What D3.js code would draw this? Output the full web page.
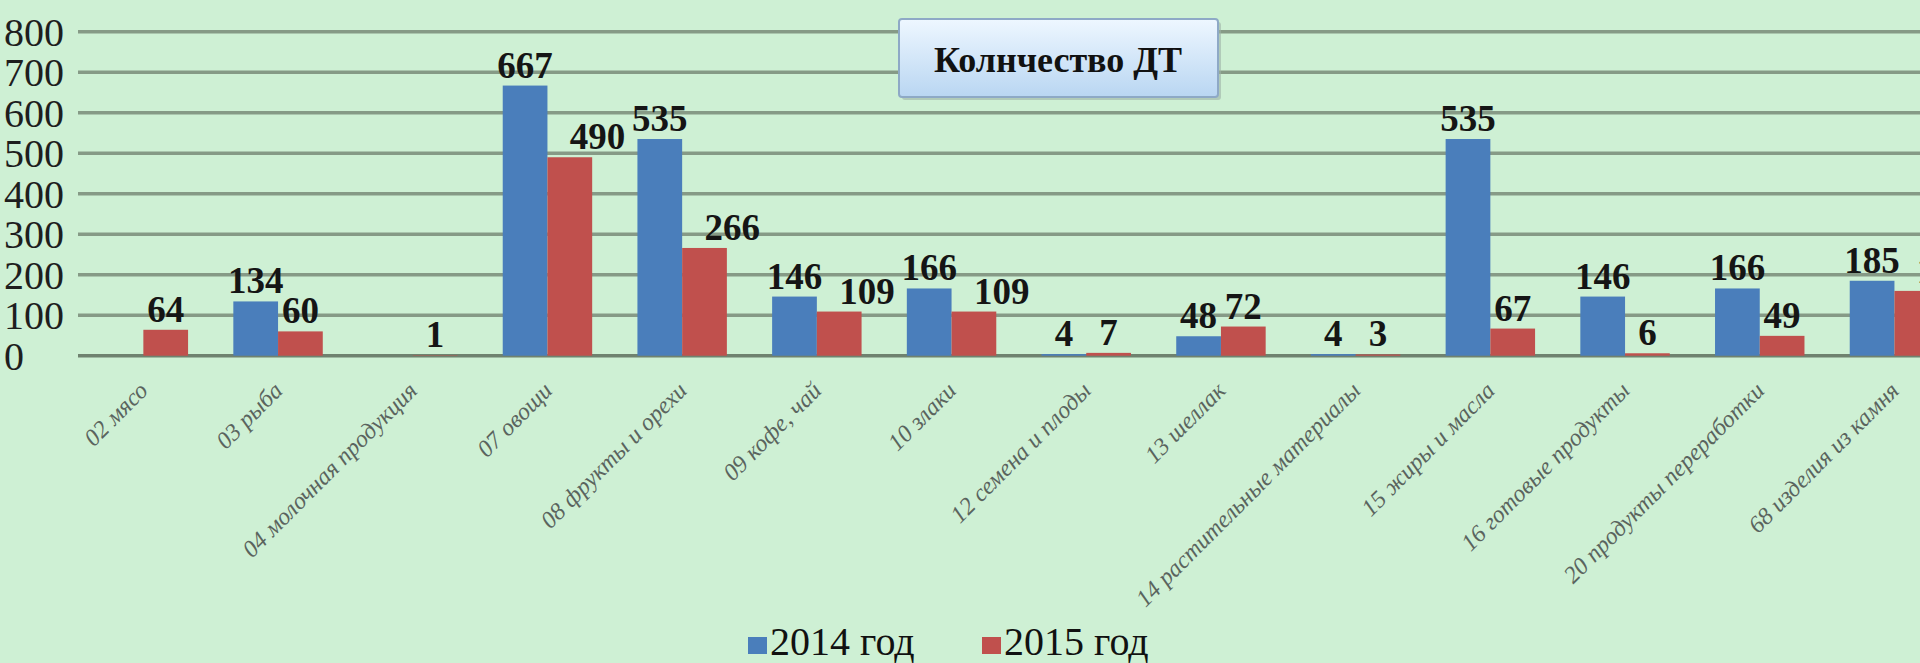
<!DOCTYPE html>
<html>
<head>
<meta charset="utf-8">
<script src="https://cdn.jsdelivr.net/npm/d3@7"></script>
<style>
  html, body { margin: 0; padding: 0; background: #cef0d4; overflow: hidden; }
  svg { display: block; font-family: "Liberation Serif", "DejaVu Serif", serif; }
</style>
</head>
<body>
<div id="chart"></div>
<script>
const width = 1920;
const height = 663;

const categories = ['02 мясо', '03 рыба', '04 молочная продукция', '07 овощи', '08 фрукты и орехи',
  '09 кофе, чай', '10 злаки', '12 семена и плоды', '13 шеллак', '14 растительные материалы',
  '15 жиры и масла', '16 готовые продукты', '20 продукты переработки', '68 изделия из камня'];
const series = ['2014 год', '2015 год'];
const values2014 = [null, 134, null, 667, 535, 146, 166, 4, 48, 4, 535, 146, 166, 185];
const values2015 = [64, 60, 1, 490, 266, 109, 109, 7, 72, 3, 67, 6, 49, 160];
const yTicks = [0, 100, 200, 300, 400, 500, 600, 700, 800];
const title = 'Колнчество ДТ';
const colors = ['#4a7ebb', '#c0504d'];

const svg = d3.select('#chart')
  .append('svg')
    .attr('width', width)
    .attr('height', height);

// plot area (the right side of the original chart is cut off)
const left = 76, step = 134.7;
const x = d3.scaleBand()
  .domain(categories)
  .range([left, left + step * categories.length])
  .paddingInner(0.336)
  .paddingOuter(0.168);
const x1 = d3.scaleBand().domain(series).range([0, x.bandwidth()]);
const y = d3.scaleLinear().domain([0, 800]).range([355.7, 31.7]);

// gridlines
svg.append('g')
  .selectAll('line')
  .data(yTicks)
  .join('line')
    .attr('x1', 78)
    .attr('x2', width)
    .attr('y1', d => y(d))
    .attr('y2', d => y(d))
    .style('stroke', d => d === 0 ? '#6f826f' : '#869a86')
    .style('stroke-width', 3.5);

// y tick labels, left aligned like the original
svg.append('g')
  .selectAll('text')
  .data(yTicks)
  .join('text')
    .attr('x', 4)
    .attr('y', d => y(d))
    .attr('dy', '0.35em')
    .style('font-size', '40px')
    .style('fill', '#1e1e1e')
    .text(d => d);

// title box
const box = svg.append('g');
const grad = svg.append('defs').append('linearGradient')
  .attr('id', 'boxgrad').attr('x1', 0).attr('y1', 0).attr('x2', 0).attr('y2', 1);
grad.append('stop').attr('offset', '0%').attr('stop-color', '#eef7ff');
grad.append('stop').attr('offset', '100%').attr('stop-color', '#b9d6f2');
box.append('rect')
  .attr('x', 902).attr('y', 22).attr('width', 319).attr('height', 78)
  .attr('rx', 3)
  .style('fill', '#9fb3a6').style('opacity', 0.6);
box.append('rect')
  .attr('x', 899).attr('y', 19).attr('width', 319).attr('height', 78)
  .attr('rx', 3)
  .style('fill', 'url(#boxgrad)')
  .style('stroke', '#8ea9c6')
  .style('stroke-width', 2);
box.append('text')
  .attr('x', 1058).attr('y', 72)
  .attr('text-anchor', 'middle')
  .style('font-size', '36px')
  .style('font-weight', 'bold')
  .style('fill', '#111')
  .text(title);

// bars
const rows = categories.map((c, i) => ({ cat: c, vals: [values2014[i], values2015[i]] }));
const groups = svg.append('g')
  .selectAll('g')
  .data(rows)
  .join('g')
    .attr('transform', d => `translate(${x(d.cat)},0)`);

groups.selectAll('rect')
  .data(d => d.vals.map((v, k) => ({ v, k })).filter(e => e.v !== null))
  .join('rect')
    .attr('x', e => x1(series[e.k]))
    .attr('width', x1.bandwidth())
    .attr('y', e => y(e.v))
    .attr('height', e => y(0) - y(e.v))
    .style('fill', e => colors[e.k]);

// value labels
groups.each(function(d) {
  const g = d3.select(this);
  d.vals.forEach((v, k) => {
    if (v === null) return;
    const cx = x1(series[k]) + x1.bandwidth() / 2;
    const t = g.append('text')
      .attr('x', cx)
      .attr('y', y(v) - 8)
      .attr('text-anchor', 'middle')
      .style('font-size', '37px')
      .style('font-weight', 'bold')
      .style('fill', '#151515')
      .text(v);
    // 2015 label moved aside when it would run into the taller 2014 bar
    const blue = d.vals[0];
    if (k === 1 && blue !== null && blue > v) {
      const w = t.node().getComputedTextLength();
      if (cx - w / 2 < x1(series[1])) t.attr('text-anchor', 'start');
    }
  });
});

// category labels
svg.append('g')
  .selectAll('text')
  .data(categories)
  .join('text')
    .attr('transform', d => `translate(${x(d) + x.bandwidth() / 2 + 6},392) rotate(-45)`)
    .attr('text-anchor', 'end')
    .style('font-size', '24px')
    .style('font-style', 'italic')
    .style('fill', '#5a645e')
    .text(d => d);

// legend
const legendX = [748, 982];
const legend = svg.append('g')
  .selectAll('g')
  .data(series)
  .join('g')
    .attr('transform', (d, i) => `translate(${legendX[i]},0)`);
legend.append('rect')
  .attr('x', 0).attr('y', 637).attr('width', 19).attr('height', 17)
  .style('fill', (d, i) => colors[i]);
legend.append('text')
  .attr('x', 22).attr('y', 655)
  .style('font-size', '40px')
  .style('fill', '#111')
  .text(d => d);
</script>
</body>
</html>
